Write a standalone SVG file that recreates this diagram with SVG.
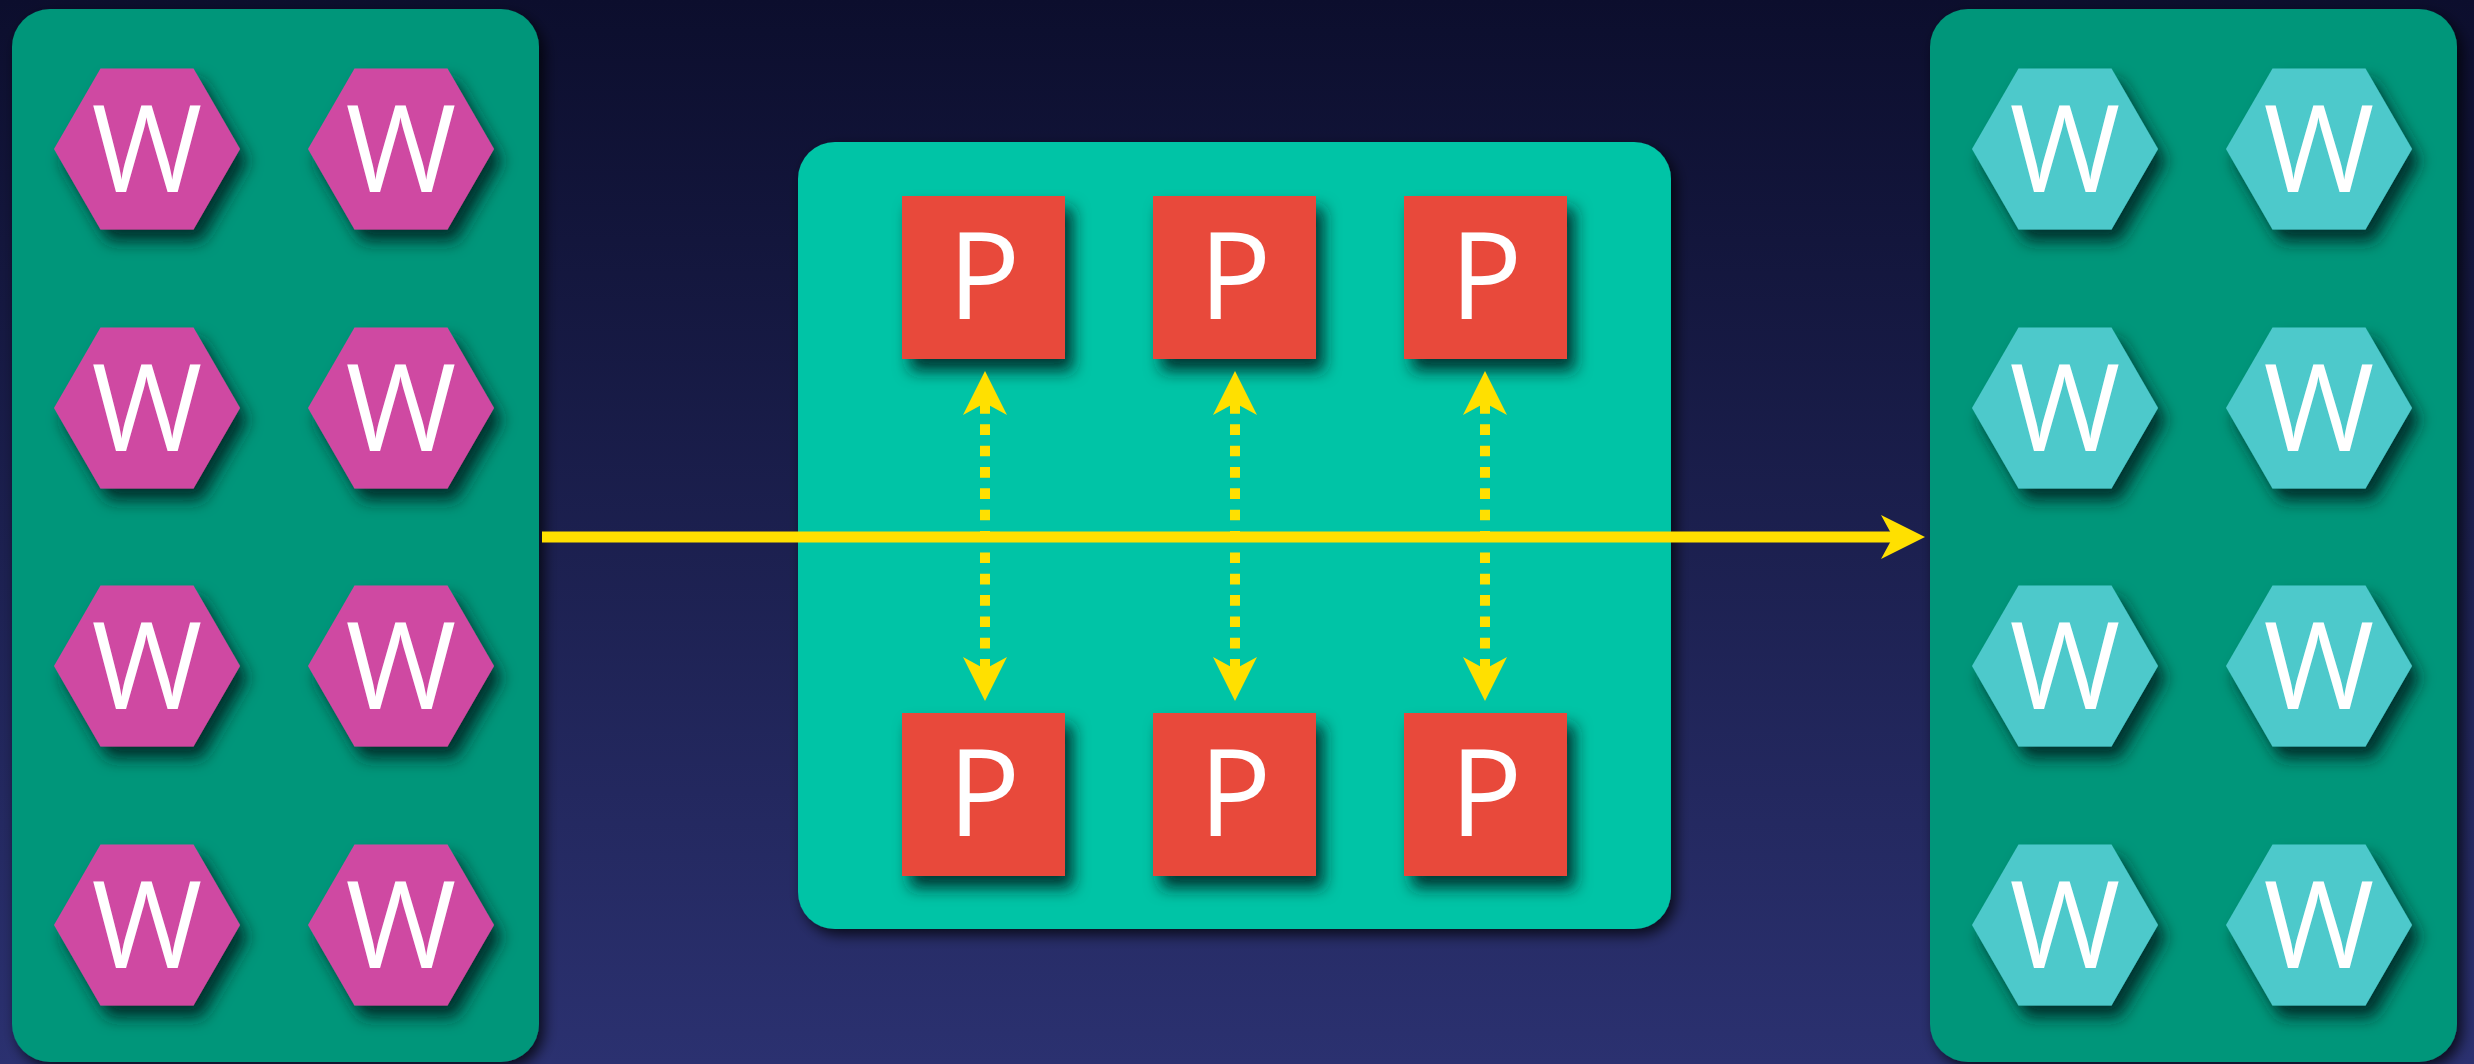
<svg xmlns="http://www.w3.org/2000/svg" xmlns:xlink="http://www.w3.org/1999/xlink" width="2474" height="1064" viewBox="0 0 2474 1064">
  <defs>
    <linearGradient id="bg" x1="0" y1="0" x2="0" y2="1">
      <stop offset="0" stop-color="#0c0e2d"/>
      <stop offset="1" stop-color="#2b3170"/>
    </linearGradient>
    <filter id="panelShadow" x="-10%" y="-10%" width="125%" height="125%">
      <feDropShadow dx="5" dy="6" stdDeviation="7" flood-color="#000" flood-opacity="0.75"/>
    </filter>
    <filter id="nodeShadow" x="-25%" y="-25%" width="160%" height="160%">
      <feDropShadow dx="8" dy="12" stdDeviation="8" flood-color="#00231c" flood-opacity="0.85"/>
    </filter>
    <!-- regular hexagon, pointy left/right, centred on the origin -->
    <polygon id="hex" points="-93,0 -46.5,-80.5 46.5,-80.5 93,0 46.5,80.5 -46.5,80.5"/>
    <marker id="head" viewBox="0 0 44 44" refX="12" refY="22" markerWidth="44" markerHeight="44" markerUnits="userSpaceOnUse" orient="auto-start-reverse">
      <path d="M0,0 L44,22 L0,44 L12,22 Z" fill="#ffe000"/>
    </marker>
    <style>
      .panel-side { fill: #02967a; filter: url(#panelShadow); }
      .panel-mid { fill: #03c4a6; filter: url(#panelShadow); }
      .hex-in { fill: #cf4aa2; filter: url(#nodeShadow); }
      .hex-out { fill: #4dc9cb; filter: url(#nodeShadow); }
      .proc { fill: #e8483a; filter: url(#nodeShadow); }
      .lbl { font-family: "Open Sans", "Liberation Sans", sans-serif; font-weight: 400; font-size: 120px; fill: #ffffff; text-anchor: middle; }
      .flow { stroke: #ffe000; stroke-width: 11; fill: none; }
      .sync { stroke: #ffe000; stroke-width: 10; fill: none; stroke-dasharray: 10.67 10.67; }
    </style>
  </defs>

  <rect width="2474" height="1064" fill="url(#bg)"/>

  <!-- containers -->
  <g id="containers">
    <rect id="panel-left" class="panel-side" x="12" y="9" width="527" height="1053" rx="38" ry="38"/>
    <rect id="panel-mid" class="panel-mid" x="798" y="142" width="873" height="787" rx="37" ry="37"/>
    <rect id="panel-right" class="panel-side" x="1930" y="9" width="527" height="1053" rx="38" ry="38"/>
  </g>

  <!-- input workers -->
  <g id="w-in-1-1"><use xlink:href="#hex" x="147" y="149" class="hex-in"/><text class="lbl" x="147" y="192">W</text></g>
  <g id="w-in-1-2"><use xlink:href="#hex" x="401" y="149" class="hex-in"/><text class="lbl" x="401" y="192">W</text></g>
  <g id="w-in-2-1"><use xlink:href="#hex" x="147" y="408" class="hex-in"/><text class="lbl" x="147" y="451">W</text></g>
  <g id="w-in-2-2"><use xlink:href="#hex" x="401" y="408" class="hex-in"/><text class="lbl" x="401" y="451">W</text></g>
  <g id="w-in-3-1"><use xlink:href="#hex" x="147" y="666" class="hex-in"/><text class="lbl" x="147" y="709">W</text></g>
  <g id="w-in-3-2"><use xlink:href="#hex" x="401" y="666" class="hex-in"/><text class="lbl" x="401" y="709">W</text></g>
  <g id="w-in-4-1"><use xlink:href="#hex" x="147" y="925" class="hex-in"/><text class="lbl" x="147" y="968">W</text></g>
  <g id="w-in-4-2"><use xlink:href="#hex" x="401" y="925" class="hex-in"/><text class="lbl" x="401" y="968">W</text></g>

  <!-- output workers -->
  <g id="w-out-1-1"><use xlink:href="#hex" x="2065" y="149" class="hex-out"/><text class="lbl" x="2065" y="192">W</text></g>
  <g id="w-out-1-2"><use xlink:href="#hex" x="2319" y="149" class="hex-out"/><text class="lbl" x="2319" y="192">W</text></g>
  <g id="w-out-2-1"><use xlink:href="#hex" x="2065" y="408" class="hex-out"/><text class="lbl" x="2065" y="451">W</text></g>
  <g id="w-out-2-2"><use xlink:href="#hex" x="2319" y="408" class="hex-out"/><text class="lbl" x="2319" y="451">W</text></g>
  <g id="w-out-3-1"><use xlink:href="#hex" x="2065" y="666" class="hex-out"/><text class="lbl" x="2065" y="709">W</text></g>
  <g id="w-out-3-2"><use xlink:href="#hex" x="2319" y="666" class="hex-out"/><text class="lbl" x="2319" y="709">W</text></g>
  <g id="w-out-4-1"><use xlink:href="#hex" x="2065" y="925" class="hex-out"/><text class="lbl" x="2065" y="968">W</text></g>
  <g id="w-out-4-2"><use xlink:href="#hex" x="2319" y="925" class="hex-out"/><text class="lbl" x="2319" y="968">W</text></g>

  <!-- processors -->
  <g id="p-top-1"><rect class="proc" x="902" y="196" width="163" height="163"/><text class="lbl" x="984" y="319">P</text></g>
  <g id="p-top-2"><rect class="proc" x="1153" y="196" width="163" height="163"/><text class="lbl" x="1235" y="319">P</text></g>
  <g id="p-top-3"><rect class="proc" x="1404" y="196" width="163" height="163"/><text class="lbl" x="1486" y="319">P</text></g>
  <g id="p-bot-1"><rect class="proc" x="902" y="713" width="163" height="163"/><text class="lbl" x="984" y="836">P</text></g>
  <g id="p-bot-2"><rect class="proc" x="1153" y="713" width="163" height="163"/><text class="lbl" x="1235" y="836">P</text></g>
  <g id="p-bot-3"><rect class="proc" x="1404" y="713" width="163" height="163"/><text class="lbl" x="1486" y="836">P</text></g>

  <!-- connectors -->
  <g id="connectors">
    <line class="sync" x1="985" y1="403" x2="985" y2="669" marker-start="url(#head)" marker-end="url(#head)"/>
    <line class="sync" x1="1235" y1="403" x2="1235" y2="669" marker-start="url(#head)" marker-end="url(#head)"/>
    <line class="sync" x1="1485" y1="403" x2="1485" y2="669" marker-start="url(#head)" marker-end="url(#head)"/>
    <line class="flow" x1="542" y1="537" x2="1893" y2="537" marker-end="url(#head)"/>
  </g>
</svg>
